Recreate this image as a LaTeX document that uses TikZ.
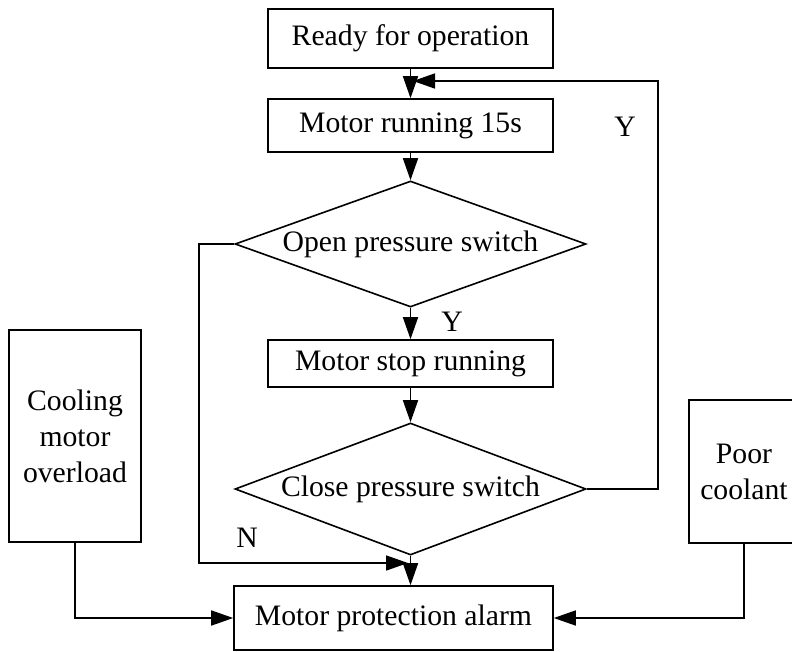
\documentclass[tikz,border=0pt]{standalone}
\usepackage{fontspec}
\setmainfont{Liberation Serif}
\usetikzlibrary{arrows.meta,shapes.geometric}
\begin{document}
\begin{tikzpicture}[x=1pt,y=-1pt,
  every node/.style={font=\fontsize{29.7pt}{36pt}\selectfont},
  box/.style={draw,line width=1.6pt,inner sep=0pt,align=center},
  decision/.style={draw,diamond,line width=1.6pt,inner sep=0pt},
  dlabel/.style={fill=white,inner sep=1.5pt},
  flow/.style={line width=1.6pt,-{Triangle[length=22pt,width=15pt]}}]

\useasboundingbox (0,0) rectangle (792,651);
\clip (0,0) rectangle (792,651);

% process steps
\node[box,minimum width=285pt,minimum height=59pt] (ready) at (410.5,38.5) {Ready for operation};
\node[box,minimum width=285pt,minimum height=53pt] (run) at (410.5,125.5) {Motor running 15s};
\node[decision,minimum width=351pt,minimum height=126pt] (open) at (410.5,244) {};
\node[dlabel] (opentxt) at (open.center) {Open pressure switch};
\node[box,minimum width=285pt,minimum height=47pt] (stop) at (410.5,363.5) {Motor stop running};
\node[decision,minimum width=351pt,minimum height=132pt] (close) at (410.5,489) {};
\node[dlabel] (closetxt) at (close.center) {Close pressure switch};
\node[box,minimum width=319pt,minimum height=64pt] (alarm) at (393.5,618) {Motor protection alarm};

% fault sources
\node[box,minimum width=132pt,minimum height=212pt] (cool) at (75,436) {Cooling\\motor\\overload};
\node[box,minimum width=110pt,minimum height=143pt] (poor) at (744,471.5) {Poor\\coolant};

% branch labels
\node (yopen) at (452,322) {Y};
\node (yloop) at (625,127) {Y};
\node (nopen) at (247,538) {N};

% main flow
\draw[flow] (ready.south) -- (run.north);
\draw[flow] (run.south) -- (open.north);
\draw[flow] (open.south) -- (stop.north);
\draw[flow] (stop.south) -- (close.north);
\draw[flow] (close.south) -- (close.south |- alarm.north);

% loop back after closing
\coordinate (fbcorner) at (658,81);
\coordinate (loopin) at (413,81);
\draw[flow] (close.east) -| (fbcorner) -- (loopin);

% no-branch of the open test
\coordinate (nleft) at (199,563);
\coordinate (nin) at (408,563);
\draw[flow] (open.west) -| (nleft) -- (nin);

% fault inputs
\draw[flow] (cool.south) |- (alarm.west);
\draw[flow] (poor.south) |- (alarm.east);
\end{tikzpicture}
\end{document}
